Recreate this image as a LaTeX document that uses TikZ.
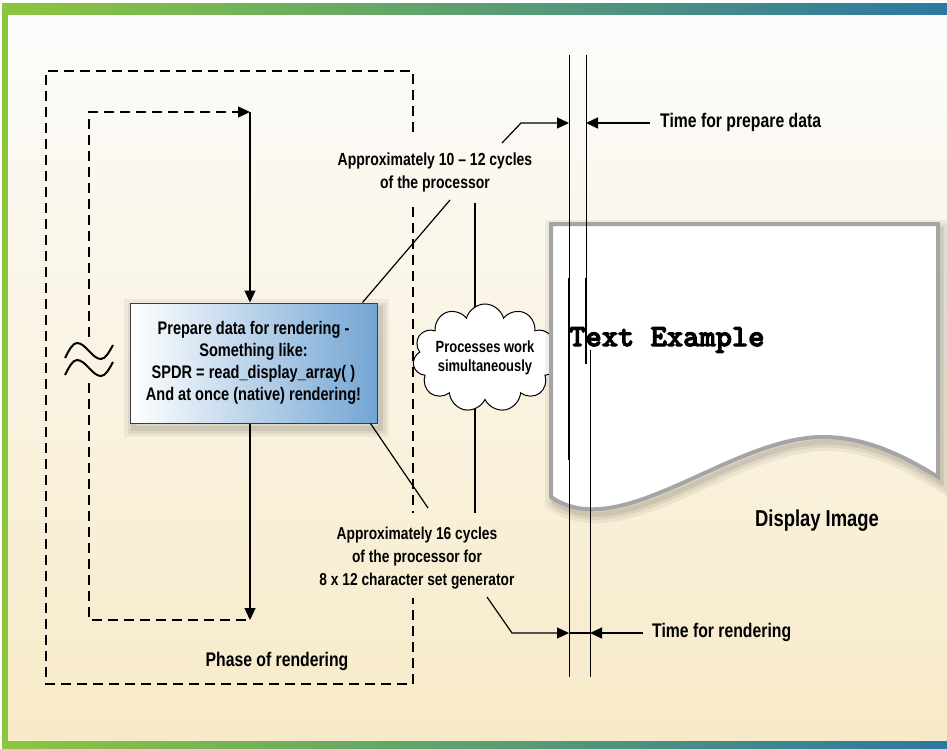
\documentclass[tikz,border=0pt]{standalone}
\usepackage{fontspec}
\usetikzlibrary{arrows.meta,shapes.symbols,calc}
\newfontfamily\cf{Liberation Sans}[FakeStretch=0.8, Ligatures=TeX]
\newfontfamily\exfont{lmmonolt10-bold.otf}[FakeBold=3.5]
\definecolor{frgreen}{RGB}{140,198,63}
\definecolor{frblue}{RGB}{45,120,162}
\definecolor{bgtop}{RGB}{252,252,251}
\definecolor{bgmid}{RGB}{250,246,233}
\definecolor{bgbot}{RGB}{247,234,200}
\definecolor{boxblue}{RGB}{115,165,212}
\definecolor{pagegray}{RGB}{165,165,165}
\begin{document}
\begin{tikzpicture}[x=1pt,y=-1pt,
  lbl/.style={font=\cf\bfseries\fontsize{17.5}{23}\selectfont, align=center, inner sep=0pt},
  biglbl/.style={font=\cf\bfseries\fontsize{19.7}{23}\selectfont, inner sep=0pt},
  dsh/.style={line width=1.4pt, dash pattern=on 10pt off 6pt},
  ln/.style={line width=1.2pt},
  tip/.style={-{Triangle[length=12pt,width=11pt]}},
  softshadow/.style={
    preaction={draw=black,opacity=0.05,line width=18pt,transform canvas={xshift=3pt,yshift=-5pt}},
    preaction={draw=black,opacity=0.06,line width=11pt,transform canvas={xshift=3pt,yshift=-5pt}},
    preaction={draw=black,opacity=0.08,line width=5pt,transform canvas={xshift=3pt,yshift=-5pt}}},
  pagepath/.style={insert path={(551,224) -- (938,224) -- (938,477)
     .. controls (910,460) and (870,437) .. (823,437)
     .. controls (730,437) and (620,545) .. (551,497) -- cycle}}
]
\useasboundingbox (0,0) rectangle (947,749);
% background and frame
\fill[white] (0,0) rectangle (947,749);
\shade[top color=bgtop, middle color=bgmid, bottom color=bgbot] (8,15) rectangle (947,741);
\shade[left color=frgreen, right color=frblue] (2,4) rectangle (947,15);
\shade[left color=frgreen, right color=frblue] (2,741) rectangle (947,749);
\fill[frgreen] (2,4) rectangle (8,749);

% outer dashed frame (phase of rendering)
\draw[dsh] (413,132) -- (413,71) -- (46,71) -- (46,684) -- (413,684) -- (413,598);
\draw[dsh] (413,207) -- (413,513);

% inner dashed loop
\coordinate (a1) at (250,112);
\coordinate (a2) at (250,620);
\draw[dsh, tip] (89,337) -- (89,112) -- (a1);
\draw[dsh] (89,383) -- (89,620) -- (a2);

% approx symbol
\draw[line width=2pt] (65,358) sin (77,343) cos (89,351) sin (101,359) cos (113,345);
\draw[line width=2pt] (65,375) sin (77,360) cos (89,368) sin (101,376) cos (113,362);

% main box
\node[font=\cf\bfseries\fontsize{18.2}{22}\selectfont, align=center, inner sep=0pt,
      softshadow, draw={rgb,255:red,60;green,60;blue,60}, line width=1pt,
      left color=white, right color=boxblue,
      minimum width=247pt, minimum height=120pt] (box) at (253.5,363)
  {Prepare data for rendering -\\Something like:\\SPDR = read\_display\_array( )\\And at once (native) rendering!};
\draw[ln, tip] (a1) -- (a1 |- box.north);
\draw[ln, tip] (a2 |- box.south) -- (a2);

% labels
\node[lbl] (lt) at (435,172) {Approximately 10 – 12 cycles\\of the processor};
\node[font=\cf\bfseries\fontsize{17.2}{23}\selectfont, align=center, inner sep=0pt] (lb) at (417,558) {Approximately 16 cycles\\of the processor for\\8 x 12 character set generator};
\coordinate (t1) at (450,200);
\coordinate (b1) at (428,508);
\draw[ln] ([xshift=-15pt]box.north east) -- (t1);
\draw[ln] ([xshift=-7pt]box.south east) -- (b1);

% vertical line through cloud
\coordinate (c1) at (475,203);
\coordinate (c2) at (475,513);
\draw[ln] (c1) -- (c2);
\node[cloud, cloud puffs=11, cloud ignores aspect, draw, fill=white, line width=1pt,
      minimum width=126pt, minimum height=108pt, inner sep=0pt,
      font=\cf\bfseries\fontsize{16.2}{19}\selectfont, align=center] (cl) at (485,358)
  {Processes work\\simultaneously};

% display image page
\path[pagepath, softshadow, fill=white, draw=pagegray, line width=4pt];
\node[font=\exfont\fontsize{31}{31}\selectfont, anchor=west, inner sep=0pt] (ex) at (569,340)
  {Text Example};
\node[font=\cf\bfseries\fontsize{23}{26}\selectfont, inner sep=0pt] (di) at (817,521) {Display Image};

% vertical time lines
\coordinate (L1t) at (569,55);
\coordinate (L1b) at (569,677);
\coordinate (R1t) at (586,55);
\coordinate (R1b) at (586,364);
\coordinate (R2t) at (590,350);
\coordinate (R2b) at (590,677);
\draw[line width=1pt] (L1t) -- (L1b);
\draw[line width=1pt] (R1t) -- (R1b);
\draw[line width=1pt] (R2t) -- (R2b);
\draw[line width=2.6pt] (569,278) -- (569,460);
\draw[line width=2.6pt] (586,278) -- (586,364);

% top arrows
\node[biglbl, anchor=west] (tp) at (660,122) {Time for prepare data};
\coordinate (k1) at (502,143);
\coordinate (k2) at (521,123);
\draw[ln, tip] (k1) -- (k2) -- (L1t |- k2);
\draw[ln, tip] ([xshift=-10pt]tp.west |- k2) -- (R1t |- k2);

% bottom arrows
\node[biglbl, anchor=west] (tr) at (652,632) {Time for rendering};
\coordinate (m1) at (487,597);
\coordinate (m2) at (512,633);
\draw[ln, tip] (m1) -- (m2) -- (L1b |- m2);
\draw[ln] (L1b |- m2) -- (R2b |- m2);
\draw[ln, tip] ([xshift=-9pt]tr.west |- m2) -- (R2b |- m2);

% phase label
\node[biglbl] (ph) at (277,661) {Phase of rendering};
\end{tikzpicture}
\end{document}
